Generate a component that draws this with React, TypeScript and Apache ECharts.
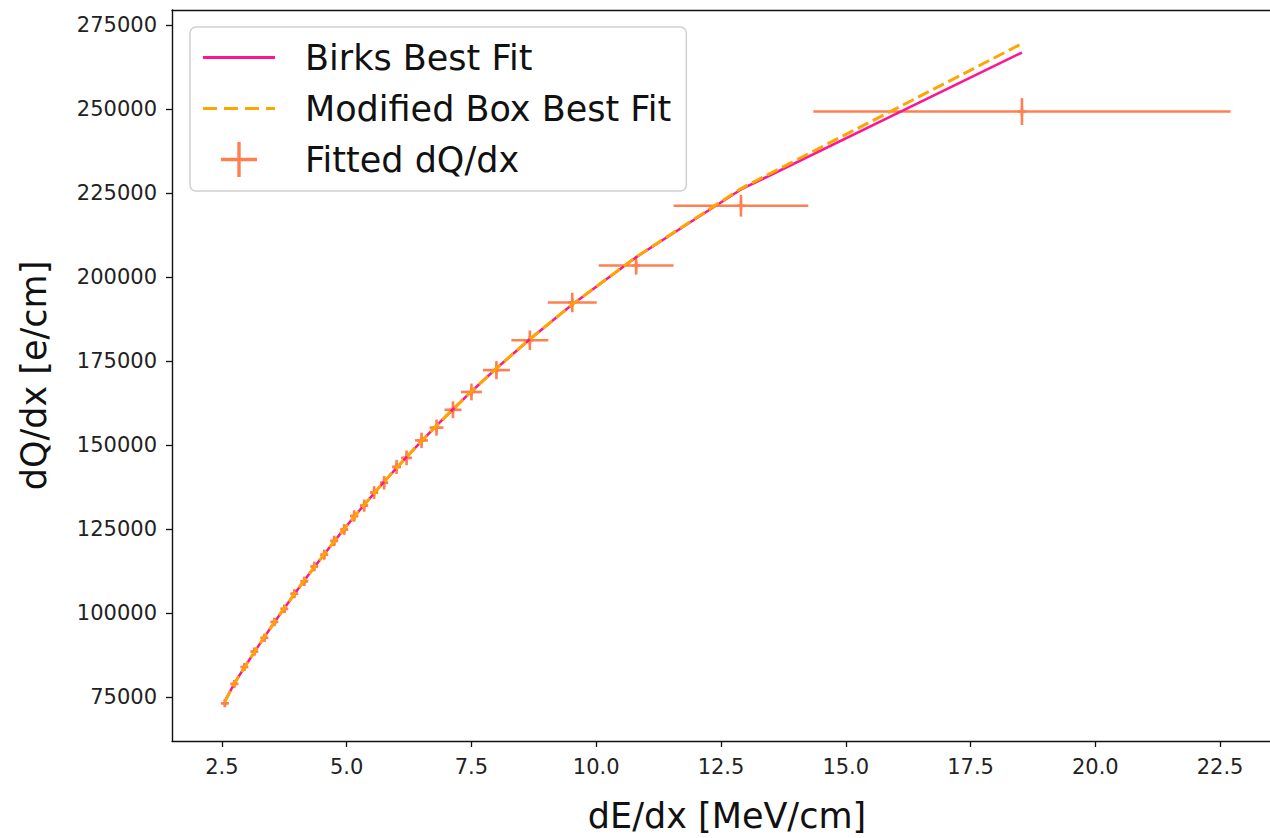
import React, { useEffect, useRef } from "react";
import * as echarts from "echarts";

// ---- data ----
const xCenters = [2.56, 2.75, 2.95, 3.15, 3.35, 3.55, 3.75, 3.95, 4.15, 4.35, 4.55, 4.75, 4.95, 5.15, 5.35, 5.55, 5.75, 6.0, 6.2, 6.5, 6.8, 7.13, 7.5, 8.0, 8.67, 9.52, 10.8, 12.9, 18.53];
const fittedDqdx = [73200, 79000, 84000, 88600, 92700, 97400, 101300, 105800, 109500, 113900, 117400, 121500, 124900, 128900, 132000, 135900, 138800, 143500, 146200, 151400, 155200, 160500, 165800, 172300, 181200, 192400, 203400, 221200, 249200];
const xErrors = [0.05, 0.05, 0.05, 0.05, 0.05, 0.05, 0.06, 0.06, 0.06, 0.06, 0.07, 0.07, 0.07, 0.08, 0.08, 0.08, 0.08, 0.09, 0.11, 0.13, 0.14, 0.17, 0.21, 0.27, 0.37, 0.49, 0.75, 1.35, 4.18];
const yErrors = [1000, 1050, 1100, 1150, 1200, 1250, 1300, 1350, 1400, 1450, 1500, 1550, 1600, 1700, 1800, 1900, 2000, 2100, 2200, 2300, 2400, 2500, 2500, 2700, 2900, 2900, 2700, 3250, 4000];
const birksFit = [73900, 79160, 83850, 88430, 92900, 97260, 101510, 105660, 109730, 113690, 117570, 121360, 125060, 128680, 132230, 135690, 139090, 143220, 146460, 151190, 155770, 160660, 165950, 172810, 181500, 191790, 205890, 226020, 266750];
const boxFit = [73700, 79100, 83850, 88450, 92950, 97300, 101550, 105700, 109750, 113700, 117580, 121370, 125070, 128690, 132240, 135700, 139100, 143230, 146470, 151200, 155780, 160670, 165960, 172830, 181550, 191850, 205950, 226300, 269400];
const xTicks = [2.5, 5.0, 7.5, 10.0, 12.5, 15.0, 17.5, 20.0, 22.5];
const yTicks = [75000, 100000, 125000, 150000, 175000, 200000, 225000, 250000, 275000];

const FONT = "DejaVu Sans";
const solidIcon = "path://M0,0H72V3H0Z";
const dashIcon = "path://M0,0H14V3H0Z M21,0H35V3H21Z M42,0H56V3H42Z M63,0H72V3H63Z";
const plusIcon = "path://M14.5,0H17.5V14H32V17H17.5V31H14.5V17H0V14H14.5Z";

export default function App() {
  const ref = useRef<HTMLDivElement>(null);
  useEffect(() => {
    if (!ref.current) return;
    const chart = echarts.init(ref.current, null, { renderer: "svg" });
    const axisLine = { show: true, lineStyle: { color: "#111", width: 1.4 } };
    chart.setOption({
      animation: false,
      backgroundColor: "#fff",
      grid: { left: 172, right: 0, top: 10, bottom: 93, containLabel: false },
      legend: {
        left: 190,
        top: 27,
        orient: "vertical",
        itemWidth: 72,
        itemHeight: 35,
        itemGap: 16,
        padding: [13, 15, 14, 13],
        borderColor: "#d0d0d0",
        borderWidth: 1.5,
        borderRadius: 6,
        backgroundColor: "rgba(255,255,255,0.85)",
        textStyle: { fontFamily: FONT, fontSize: 35, color: "#111", lineHeight: 35, padding: [0, 0, 0, 25] },
        data: [
          { name: "Birks Best Fit", icon: solidIcon, itemStyle: { color: "#FF1493" } },
          { name: "Modified Box Best Fit", icon: dashIcon, itemStyle: { color: "#FFA500" } },
          { name: "Fitted dQ/dx", icon: plusIcon, itemStyle: { color: "#FF7F50" } },
        ],
      },
      xAxis: [
        {
          type: "value",
          min: 1.5,
          max: 23.5,
          name: "dE/dx [MeV/cm]",
          nameLocation: "middle",
          nameGap: 57,
          nameTextStyle: { fontFamily: FONT, fontSize: 35, color: "#111", padding: [0, 0, 0, 12] },
          axisLine,
          axisTick: { show: true, length: 6, lineStyle: { color: "#111", width: 1.3 }, customValues: xTicks },
          axisLabel: {
            fontFamily: FONT,
            fontSize: 21,
            color: "#222",
            margin: 15,
            customValues: xTicks,
            formatter: (v: number) => v.toFixed(1),
          },
          splitLine: { show: false },
        },
        {
          type: "value",
          position: "top",
          min: 1.5,
          max: 23.5,
          axisLine,
          axisTick: { show: false },
          axisLabel: { show: false },
          splitLine: { show: false },
        },
      ],
      yAxis: {
        type: "value",
        min: 62000,
        max: 279400,
        name: "dQ/dx [e/cm]",
        nameLocation: "middle",
        nameGap: 121,
        nameTextStyle: { fontFamily: FONT, fontSize: 35, color: "#111" },
        axisLine,
        axisTick: { show: true, length: 6, lineStyle: { color: "#111", width: 1.3 }, customValues: yTicks },
        axisLabel: {
          fontFamily: FONT,
          fontSize: 21,
          color: "#222",
          margin: 15,
          customValues: yTicks,
          formatter: (v: number) => String(v),
        },
        splitLine: { show: false },
      },
      series: [
        {
          name: "Fitted dQ/dx",
          type: "custom",
          xAxisIndex: 0,
          z: 2,
          data: xCenters.map((x, i) => [x, fittedDqdx[i], xErrors[i], yErrors[i]]),
          encode: { x: 0, y: 1 },
          renderItem: (_params: any, api: any) => {
            const x = api.value(0);
            const y = api.value(1);
            const ex = api.value(2);
            const ey = api.value(3);
            const c = api.coord([x, y]);
            const l = api.coord([x - ex, y]);
            const r = api.coord([x + ex, y]);
            const t = api.coord([x, y + ey]);
            const b = api.coord([x, y - ey]);
            const st = { stroke: "#FF7F50", lineWidth: 2.6 };
            return {
              type: "group",
              children: [
                { type: "line", shape: { x1: l[0], y1: c[1], x2: r[0], y2: c[1] }, style: st },
                { type: "line", shape: { x1: c[0], y1: t[1], x2: c[0], y2: b[1] }, style: st },
                { type: "line", shape: { x1: c[0] - 4, y1: c[1], x2: c[0] + 4, y2: c[1] }, style: st },
                { type: "line", shape: { x1: c[0], y1: c[1] - 4, x2: c[0], y2: c[1] + 4 }, style: st },
              ],
            };
          },
        },
        {
          name: "Birks Best Fit",
          type: "line",
          xAxisIndex: 0,
          z: 3,
          symbol: "none",
          data: xCenters.map((x, i) => [x, birksFit[i]]),
          lineStyle: { color: "#FF1493", width: 2.5 },
          itemStyle: { color: "#FF1493" },
        },
        {
          name: "Modified Box Best Fit",
          type: "line",
          xAxisIndex: 0,
          z: 4,
          symbol: "none",
          data: xCenters.map((x, i) => [x, boxFit[i]]),
          lineStyle: { color: "#FFA500", width: 3, type: [12, 5] },
          itemStyle: { color: "#FFA500" },
        },
      ],
    });
    return () => chart.dispose();
  }, []);
  return (
    <div
      ref={ref}
      style={{ position: "absolute", left: 0, top: 0, width: 1270, height: 838, background: "#fff" }}
    />
  );
}
